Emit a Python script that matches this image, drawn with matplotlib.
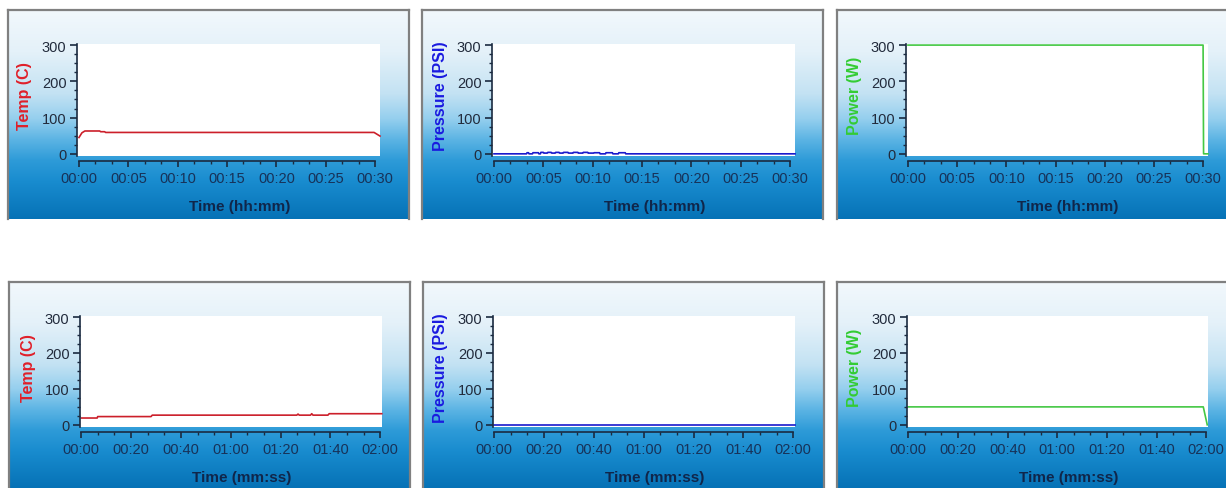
import numpy as np
import matplotlib
matplotlib.use("Agg")
import matplotlib.pyplot as plt
from matplotlib.colors import LinearSegmentedColormap
from matplotlib.ticker import AutoMinorLocator, FixedLocator

W, H = 1226, 489

# run 1 : 30 minute program, time in minutes
temp1_t = [0, 0.3, 0.6, 2.1, 2.2, 2.6, 2.7, 29.9, 30.5]
temp1_v = [45, 58, 63, 63, 61, 61, 59, 59, 49]

pres1_t = [0, 3.3, 3.35, 3.5, 3.55, 3.9, 3.95, 4.5, 4.55, 4.7, 4.75, 5.0, 5.05,
           5.4, 5.45, 5.8, 5.85, 6.2, 6.25, 6.6, 6.65, 7.0, 7.05, 7.5, 7.55,
           8.0, 8.05, 8.5, 8.55, 9.0, 9.05, 9.5, 9.55, 10.1, 10.15, 10.7, 10.75,
           11.3, 11.35, 12.0, 12.05, 12.6, 12.65, 13.3, 13.35, 30.5]
pres1_v = [0, 0, 3, 3, 0, 0, 3, 3, 0, 0, 4, 4, 2,
           2, 4, 4, 2, 2, 4, 4, 2, 2, 4, 4, 2,
           2, 4, 4, 2, 2, 4, 4, 2, 2, 3, 3, 0,
           0, 3, 3, 0, 0, 3, 3, 0, 0]

power1_t = [0, 30.0, 30.05, 30.5]
power1_v = [300, 300, 0, 0]

# run 2 : 2 minute program, time in seconds
temp2_t = [0, 6.4, 6.6, 28, 28.5, 86.5, 87, 87.5, 92, 92.5, 93, 99, 99.5, 120.6]
temp2_v = [19, 19, 23, 23, 27, 27, 30, 27, 27, 31, 27, 27, 31, 31]

pres2_t = [0, 120.6]
pres2_v = [0, 0]

power2_t = [0, 118.8, 120.4]
power2_v = [50, 50, 0]

ticks_min = [0, 5, 10, 15, 20, 25, 30]
labels_min = ["00:00", "00:05", "00:10", "00:15", "00:20", "00:25", "00:30"]
ticks_sec = [0, 20, 40, 60, 80, 100, 120]
labels_sec = ["00:00", "00:20", "00:40", "01:00", "01:20", "01:40", "02:00"]
y_ticks = [0, 100, 200, 300]

plt.rcParams['font.family'] = ['Liberation Sans', 'DejaVu Sans']

fig = plt.figure(figsize=(W / 100, H / 100), dpi=100)
fig.patch.set_facecolor('white')

grad_cmap = LinearSegmentedColormap.from_list('panel', [
    (0.0, '#f2f8fc'), (0.2, '#e4f1f9'), (0.4, '#c3e2f3'), (0.52, '#95cfee'),
    (0.62, '#5cb4e4'), (0.72, '#2e9bd8'), (0.82, '#198ccf'), (1.0, '#0672b6')])
grad = np.linspace(0, 1, 256).reshape(-1, 1)

AXIS_DARK = '#1a2a40'


def px_rect(x0, y0, x1, y1):
    return [x0 / W, 1 - y1 / H, (x1 - x0) / W, (y1 - y0) / H]


def panel(frame, plot, t, v, color, ylabel, ycolor, ticks, labels, xlim, xlabel, cut_right=False):
    bg = fig.add_axes(px_rect(*frame))
    bg.imshow(grad, aspect='auto', cmap=grad_cmap, extent=[0, 1, 0, 1])
    bg.set_xlim(0, 1)
    bg.set_ylim(0, 1)
    bg.set_xticks([])
    bg.set_yticks([])
    for side in ['top', 'left', 'right']:
        bg.spines[side].set_color('#808080')
        bg.spines[side].set_linewidth(1.6)
    bg.spines['bottom'].set_visible(False)
    if cut_right:
        bg.spines['right'].set_visible(False)

    ax = fig.add_axes(px_rect(*plot))
    ax.set_facecolor('white')
    ax.plot(t, v, color=color, lw=1.2, clip_on=False)
    ax.set_xlim(*xlim)
    ax.set_ylim(-6, 303)

    ax.spines['top'].set_visible(False)
    ax.spines['right'].set_visible(False)
    ax.spines['bottom'].set_position(('outward', 3.6))
    ax.spines['bottom'].set_bounds(ticks[0], ticks[-1])
    for side in ['left', 'bottom']:
        ax.spines[side].set_color(AXIS_DARK)
        ax.spines[side].set_linewidth(1.2)

    ax.xaxis.set_major_locator(FixedLocator(ticks))
    ax.set_xticklabels(labels)
    ax.xaxis.set_minor_locator(AutoMinorLocator(3))
    ax.set_yticks(y_ticks)
    ax.yaxis.set_minor_locator(AutoMinorLocator(4))

    ax.tick_params(axis='x', which='major', length=4.3, width=1.2, color=AXIS_DARK,
                   labelsize=10.5, labelcolor='#173259', pad=3)
    ax.tick_params(axis='x', which='minor', length=2.2, width=1.0, color=AXIS_DARK)
    ax.tick_params(axis='y', which='major', length=5, width=1.2, color=AXIS_DARK,
                   labelsize=10.5, labelcolor='#222b3c', pad=2.5)
    ax.tick_params(axis='y', which='minor', length=2.5, width=1.0, color=AXIS_DARK)

    pw = plot[2] - plot[0]
    ph = plot[3] - plot[1]
    ax.set_ylabel(ylabel, color=ycolor, fontsize=11.5, fontweight='bold', va='center')
    ax.yaxis.set_label_coords(-52 / pw, (plot[3] - (plot[1] + 51)) / ph)
    ax.set_xlabel(xlabel, color='#10264a', fontsize=11, fontweight='bold', va='center')
    ax.xaxis.set_label_coords((pw / 2 + 11) / pw, -50 / ph)
    return ax


top_xlim = (-0.2, 30.5)
bot_xlim = (-0.5, 120.7)

panel((8, 11, 409, 220), (77, 45, 380, 157), temp1_t, temp1_v, '#cc1f2a',
      'Temp (C)', '#e0202a', ticks_min, labels_min, top_xlim, 'Time (hh:mm)')
panel((422, 11, 823, 220), (492, 45, 795, 157), pres1_t, pres1_v, '#1a1acc',
      'Pressure (PSI)', '#1a1ae0', ticks_min, labels_min, top_xlim, 'Time (hh:mm)')
panel((837, 11, 1226, 220), (906, 45, 1208, 157), power1_t, power1_v, '#44c844',
      'Power (W)', '#33cc33', ticks_min, labels_min, top_xlim, 'Time (hh:mm)', cut_right=True)

panel((9, 283, 410, 489), (80, 317, 382, 428), temp2_t, temp2_v, '#cc1f2a',
      'Temp (C)', '#e0202a', ticks_sec, labels_sec, bot_xlim, 'Time (mm:ss)')
panel((423, 283, 824, 489), (493, 317, 795, 428), pres2_t, pres2_v, '#1a1acc',
      'Pressure (PSI)', '#1a1ae0', ticks_sec, labels_sec, bot_xlim, 'Time (mm:ss)')
panel((837, 283, 1226, 489), (907, 317, 1208, 428), power2_t, power2_v, '#44c844',
      'Power (W)', '#33cc33', ticks_sec, labels_sec, bot_xlim, 'Time (mm:ss)', cut_right=True)

fig.savefig('out.png', dpi=100, facecolor='white')
